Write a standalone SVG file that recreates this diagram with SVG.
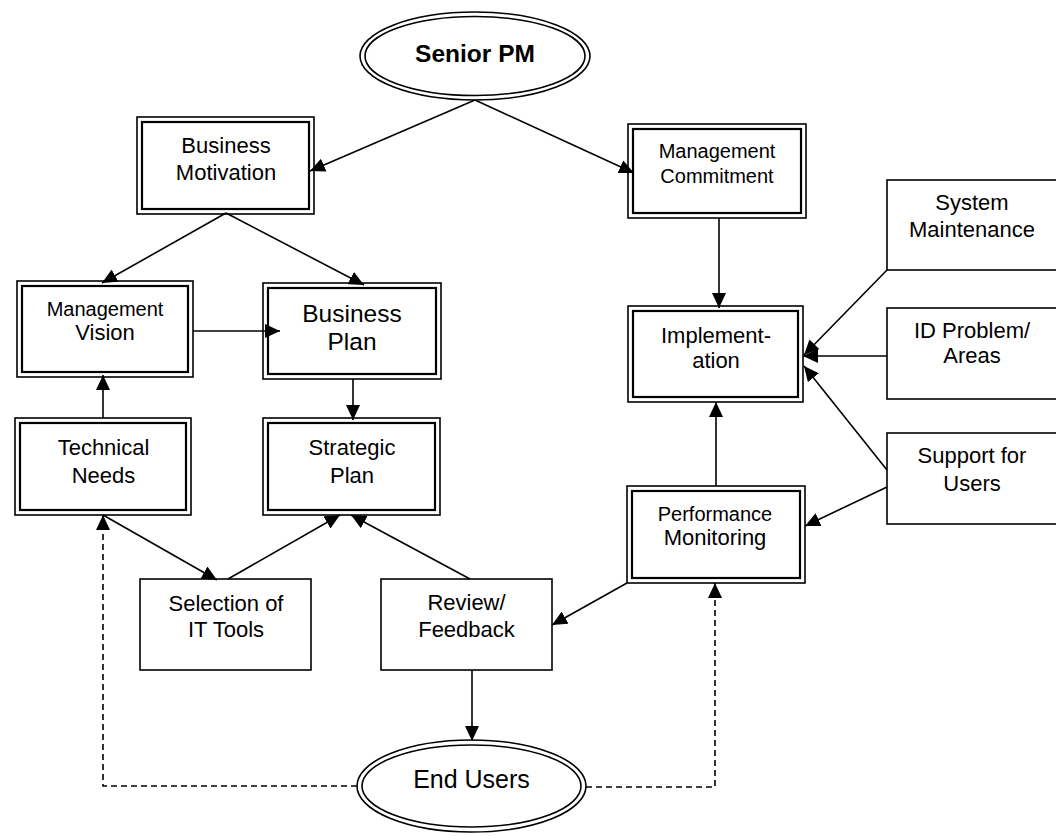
<svg xmlns="http://www.w3.org/2000/svg" width="1056" height="836" viewBox="0 0 1056 836">
<style>
.o{fill:none;stroke:#000;stroke-width:1.6}
.i{fill:none;stroke:#000;stroke-width:2.2}
.s{fill:#fff;stroke:#000;stroke-width:1.6}
text{font-family:"Liberation Sans",Arial,sans-serif;font-size:22px;text-anchor:middle;fill:#000}
.sm{font-size:20px}
.lg{font-size:24.5px}
.b{font-weight:bold}
.c{fill:none;stroke:#000;stroke-width:1.6;marker-end:url(#ah)}
.d{fill:none;stroke:#000;stroke-width:1.6;stroke-dasharray:6 4;marker-end:url(#ah)}
</style>
<defs>
<marker id="ah" markerUnits="userSpaceOnUse" markerWidth="15" markerHeight="14" refX="15" refY="7" orient="auto" viewBox="0 0 15 14">
<path d="M0,0 L15,7 L0,14 z" fill="#000"/>
</marker>
</defs>
<rect width="1056" height="836" fill="#fff"/>

<g id="senior-pm">
<ellipse class="s" cx="475" cy="56" rx="115" ry="44"/>
<ellipse class="o" cx="475" cy="56" rx="110" ry="39.5"/>
<text class="lg b" x="475" y="62">Senior PM</text>
</g>

<g id="business-motivation">
<rect class="s" x="137" y="117" width="177" height="97"/>
<rect class="i" x="142" y="122" width="167" height="87"/>
<text x="226" y="153">Business</text>
<text x="226" y="180">Motivation</text>
</g>

<g id="management-commitment">
<rect class="s" x="628" y="124" width="178" height="94"/>
<rect class="i" x="633" y="129" width="168" height="84"/>
<text class="sm" x="717" y="158">Management</text>
<text class="sm" x="717" y="183">Commitment</text>
</g>

<g id="management-vision">
<rect class="s" x="17" y="281" width="176" height="96"/>
<rect class="i" x="22" y="286" width="166" height="86"/>
<text class="sm" x="105" y="316">Management</text>
<text x="105" y="340">Vision</text>
</g>

<g id="business-plan">
<rect class="s" x="263" y="283" width="178" height="96"/>
<rect class="i" x="268" y="288" width="168" height="86"/>
<text class="lg" x="352" y="322">Business</text>
<text class="lg" x="352" y="350">Plan</text>
</g>

<g id="technical-needs">
<rect class="s" x="15" y="418" width="176" height="97"/>
<rect class="i" x="20" y="423" width="166" height="87"/>
<text x="103.5" y="455">Technical</text>
<text x="103.5" y="483">Needs</text>
</g>

<g id="strategic-plan">
<rect class="s" x="263" y="418" width="177" height="97"/>
<rect class="i" x="268" y="423" width="167" height="87"/>
<text x="352" y="455">Strategic</text>
<text x="352" y="483">Plan</text>
</g>

<g id="implementation">
<rect class="s" x="628" y="306" width="175" height="96"/>
<rect class="i" x="633" y="311" width="165" height="86"/>
<text x="716" y="343">Implement-</text>
<text x="716" y="368">ation</text>
</g>

<g id="performance-monitoring">
<rect class="s" x="627" y="486" width="178" height="97"/>
<rect class="i" x="632" y="491" width="168" height="87"/>
<text class="sm" x="715" y="521">Performance</text>
<text x="715" y="545">Monitoring</text>
</g>

<g id="system-maintenance">
<rect class="s" x="887" y="180" width="172" height="90"/>
<text x="972" y="210">System</text>
<text x="972" y="237">Maintenance</text>
</g>

<g id="id-problem-areas">
<rect class="s" x="887" y="308" width="172" height="91"/>
<text x="972" y="338">ID Problem/</text>
<text x="972" y="363">Areas</text>
</g>

<g id="support-for-users">
<rect class="s" x="887" y="433" width="172" height="91"/>
<text x="972" y="463">Support for</text>
<text x="972" y="491">Users</text>
</g>

<g id="selection-it-tools">
<rect class="s" x="140" y="579" width="171" height="91"/>
<text x="226" y="611">Selection of</text>
<text x="226" y="637">IT Tools</text>
</g>

<g id="review-feedback">
<rect class="s" x="381" y="579" width="171" height="91"/>
<text x="466.5" y="610">Review/</text>
<text x="466.5" y="637">Feedback</text>
</g>

<g id="end-users">
<ellipse class="s" cx="471.5" cy="786" rx="114.5" ry="46"/>
<ellipse class="o" cx="471.5" cy="786" rx="109.5" ry="41"/>
<text style="font-size:25px" x="471.5" y="788">End Users</text>
</g>

<g id="connectors">
<path class="c" d="M475,100 L310,171"/>
<path class="c" d="M475,100 L634,173"/>
<path class="c" d="M226,213 L102,283"/>
<path class="c" d="M226,213 L364,285"/>
<path class="c" d="M193,331 L280,331"/>
<path class="c" d="M353,379 L353,420"/>
<path class="c" d="M103,418 L103,375"/>
<path class="c" d="M719,218 L719,308"/>
<path class="c" d="M716,486 L716,402"/>
<path class="c" d="M887,270 L804,355"/>
<path class="c" d="M887,356 L803,356"/>
<path class="c" d="M887,470 L804,366"/>
<path class="c" d="M887,487 L805,526"/>
<path class="c" d="M627,583 L552,625"/>
<path class="c" d="M470,579 L351,515"/>
<path class="c" d="M228,579 L340,515"/>
<path class="c" d="M103,515 L217,580"/>
<path class="c" d="M472,670 L472,741"/>
<path class="d" d="M357,786 H103 V515"/>
<path class="d" d="M586,787 H715 V583"/>
</g>
</svg>
